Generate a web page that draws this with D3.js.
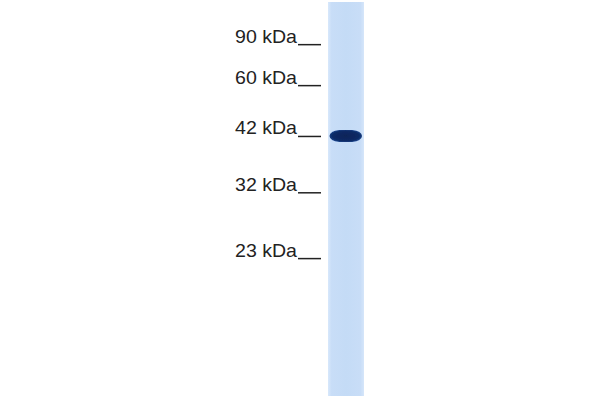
<!DOCTYPE html>
<html>
<head>
<meta charset="utf-8">
<script src="https://cdn.jsdelivr.net/npm/d3@7"></script>
<style>
  body { margin: 0; background: #fff; }
  svg { display: block; }
</style>
</head>
<body>
<script>
// marker ladder: labels and relative mobility (fraction of lane length)
const markerLabels = ['90 kDa', '60 kDa', '42 kDa', '32 kDa', '23 kDa']
const markerMobility = [0.107, 0.211, 0.340, 0.483, 0.650]

// detected bands in the sample lane
const bandMobility = [0.340]
const bandIntensity = [1]

const width = 600
const height = 400
const laneTop = 2
const laneBottom = 396
const laneLeft = 328
const laneRight = 364

const svg = d3.select('body').append('svg')
  .attr('width', width)
  .attr('height', height)

const y = d3.scaleLinear().domain([0, 1]).range([laneTop, laneBottom])

const defs = svg.append('defs')

// lane fill, a touch lighter near the edges
const laneGrad = defs.append('linearGradient').attr('id', 'laneGrad')
laneGrad.selectAll('stop')
  .data([[0, '#d8e8fb'], [0.1, '#c8ddf7'], [0.5, '#c4dbf6'], [0.9, '#c8ddf7'], [1, '#d6e6fa']])
  .enter().append('stop')
  .attr('offset', d => d[0])
  .attr('stop-color', d => d[1])

const bandGrad = defs.append('radialGradient').attr('id', 'bandGrad')
  .attr('cx', 0.5).attr('cy', 0.5).attr('r', 0.55)
bandGrad.selectAll('stop')
  .data([[0, '#072458'], [0.75, '#0a2a66'], [0.92, '#1a3f82'], [1, '#4a73b4']])
  .enter().append('stop')
  .attr('offset', d => d[0])
  .attr('stop-color', d => d[1])

defs.append('filter').attr('id', 'soft')
  .append('feGaussianBlur').attr('stdDeviation', 0.6)

// the lane
svg.append('rect')
  .attr('x', laneLeft)
  .attr('y', laneTop)
  .attr('width', laneRight - laneLeft)
  .attr('height', laneBottom - laneTop)
  .attr('fill', 'url(#laneGrad)')

// bands
svg.append('g').selectAll('rect.band')
  .data(bandMobility)
  .enter().append('rect')
  .classed('band', true)
  .attr('x', laneLeft + 1.5)
  .attr('width', laneRight - laneLeft - 3.5)
  .attr('y', d => y(d) - 6)
  .attr('height', 12)
  .attr('rx', 10)
  .attr('ry', 6)
  .attr('fill', 'url(#bandGrad)')
  .attr('opacity', (d, i) => bandIntensity[i])
  .attr('filter', 'url(#soft)')

// marker labels and tick lines
const markers = svg.append('g').selectAll('g.marker')
  .data(markerMobility)
  .enter().append('g')
  .classed('marker', true)
  .attr('transform', d => 'translate(0,' + y(d) + ')')

markers.append('text')
  .attr('x', 235)
  .attr('y', -1.5)
  .attr('textLength', 62)
  .attr('lengthAdjust', 'spacingAndGlyphs')
  .style('font-family', 'Liberation Sans, Arial, sans-serif')
  .style('font-size', '18.5px')
  .style('fill', '#222')
  .text((d, i) => markerLabels[i])

markers.append('line')
  .attr('x1', 298)
  .attr('x2', 321)
  .attr('y1', 0.5)
  .attr('y2', 0.5)
  .attr('stroke', '#222')
  .attr('stroke-width', 1.5)
</script>
</body>
</html>
